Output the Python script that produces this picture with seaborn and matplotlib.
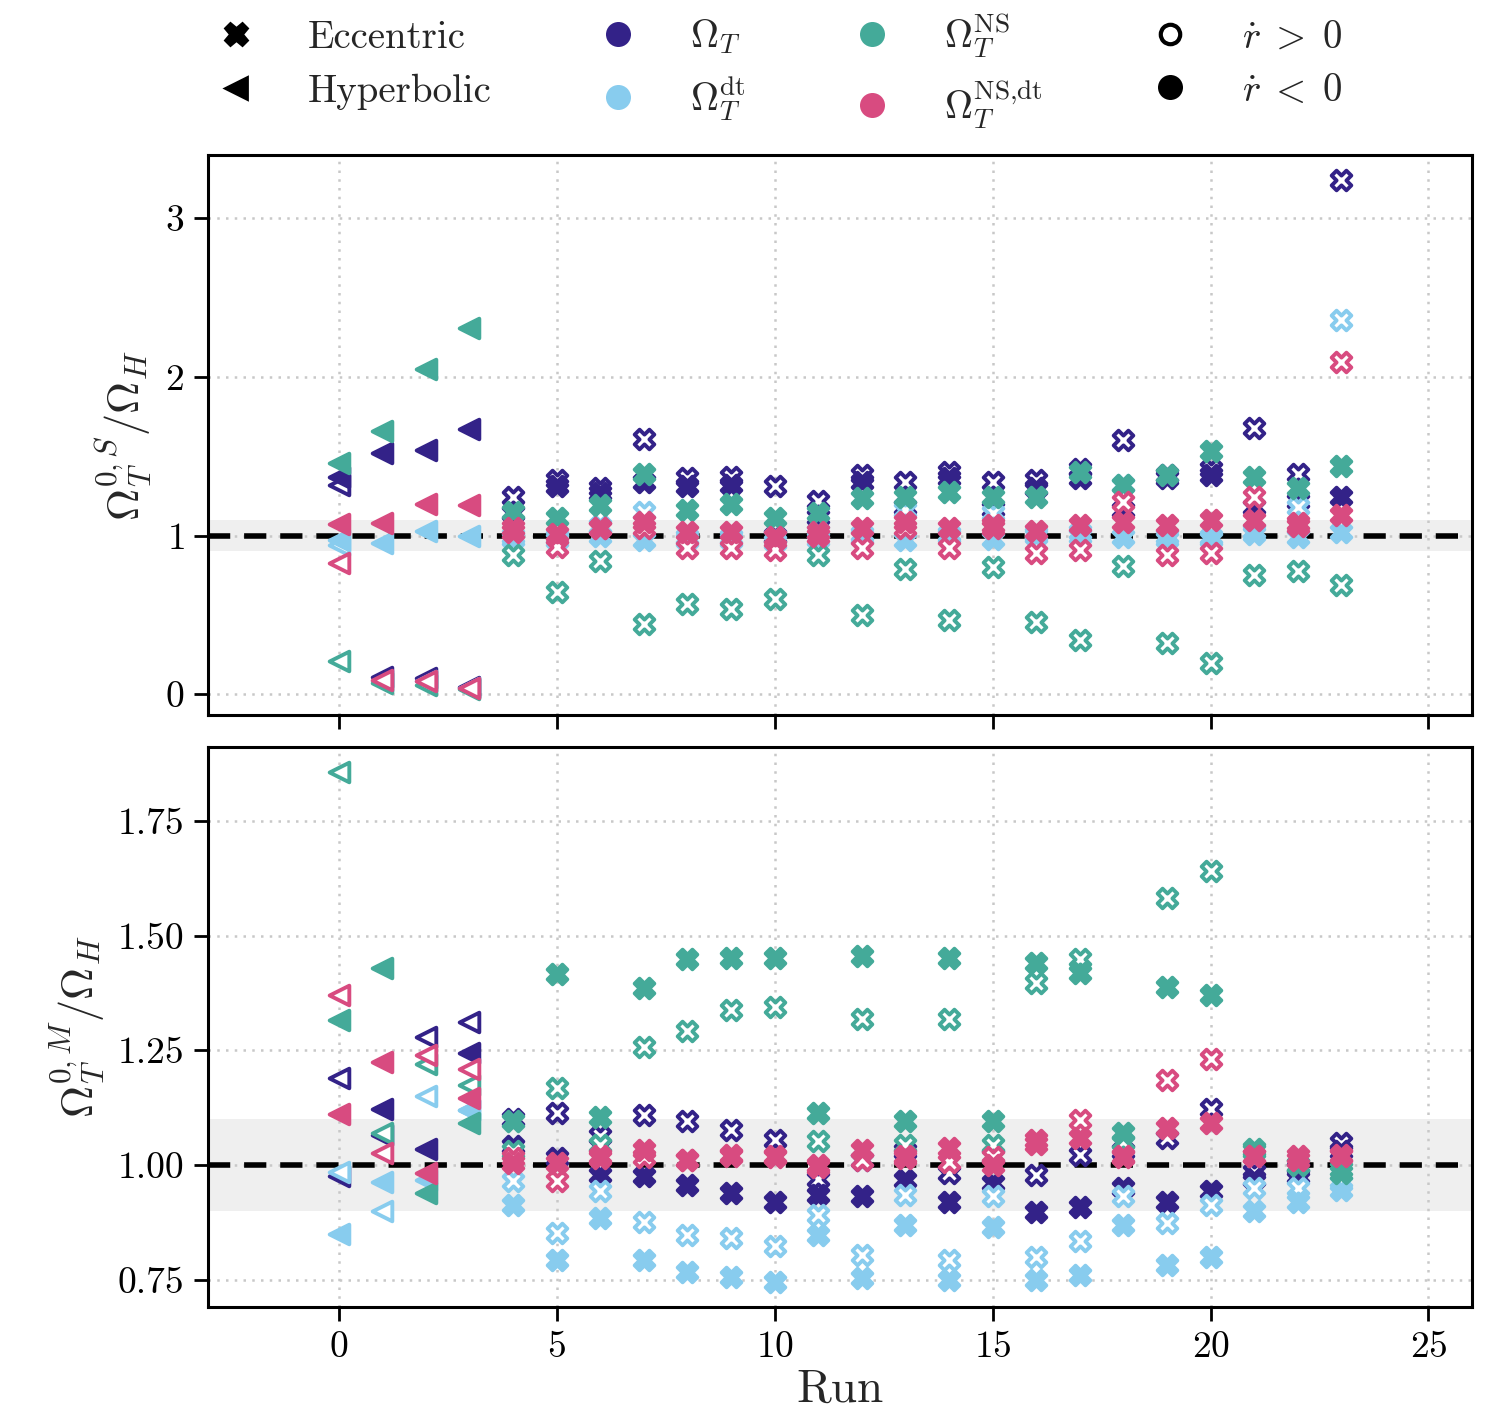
import numpy as np
import pandas as pd
import matplotlib
matplotlib.use("Agg")
import matplotlib.pyplot as plt
from matplotlib.lines import Line2D
import seaborn as sns

sns.set_theme(style="ticks")
plt.rcParams["font.family"] = "serif"
plt.rcParams["font.serif"] = ["cmr10", "DejaVu Serif"]
plt.rcParams["mathtext.fontset"] = "cm"
plt.rcParams["axes.formatter.use_mathtext"] = True

# ---------------- data ----------------
runs = list(range(24))
orbit = ["Hyperbolic"] * 4 + ["Eccentric"] * 20
quantities = ["Omega_T", "Omega_T_dt", "Omega_T_NS", "Omega_T_NS_dt"]
colors = ["#332288", "#88CCEE", "#44AA99", "#D84B80"]

# Top panel (S): rdot<0 (filled) and rdot>0 (open)
S_OmegaT_neg = [1.37, 1.52, 1.54, 1.67, 1.14, 1.31, 1.27, 1.34, 1.31, 1.32, 1.00, 1.12,
                1.34, 1.18, 1.36, 1.17, 1.30, 1.36, 1.16, 1.36, 1.38, 1.18, 1.22, 1.245]
S_OmegaT_pos = [1.32, 0.11, 0.10, 0.045, 1.24, 1.35, 1.30, 1.61, 1.36, 1.37, 1.31, 1.22,
                1.38, 1.34, 1.40, 1.34, 1.35, 1.42, 1.60, 1.38, 1.42, 1.68, 1.39, 3.24]
S_dt_neg = [0.97, 0.95, 1.03, 1.00, 0.98, 0.97, 1.00, 0.97, 0.97, 0.97, 0.96, 0.98,
            0.99, 0.97, 1.00, 0.98, 1.00, 1.00, 0.99, 0.98, 0.99, 1.01, 0.99, 1.02]
S_dt_pos = [0.94, 0.08, 0.08, 0.04, 1.00, 0.99, 1.06, 1.15, 0.99, 0.99, 0.99, 1.02,
            1.01, 1.16, 1.01, 1.14, 1.01, 1.02, 1.32, 1.00, 0.98, 1.03, 1.18, 2.36]
S_NS_neg = [1.46, 1.66, 2.05, 2.31, 1.15, 1.11, 1.19, 1.39, 1.16, 1.20, 1.11, 1.14,
            1.235, 1.24, 1.275, 1.24, 1.24, 1.40, 1.32, 1.38, 1.53, 1.37, 1.30, 1.44]
S_NS_pos = [0.21, 0.07, 0.06, 0.03, 0.88, 0.645, 0.84, 0.44, 0.57, 0.535, 0.60, 0.875,
            0.50, 0.79, 0.466, 0.80, 0.455, 0.34, 0.81, 0.32, 0.195, 0.75, 0.775, 0.69]
S_NSdt_neg = [1.07, 1.08, 1.20, 1.19, 1.02, 1.01, 1.05, 1.085, 1.02, 1.02, 0.99, 1.00,
              1.045, 1.085, 1.045, 1.05, 1.03, 1.065, 1.085, 1.065, 1.095, 1.10, 1.06, 1.13]
S_NSdt_pos = [0.83, 0.09, 0.08, 0.04, 1.05, 0.93, 1.05, 1.05, 0.92, 0.92, 0.91, 1.02,
              0.92, 1.05, 0.92, 1.065, 0.89, 0.91, 1.21, 0.875, 0.89, 1.245, 1.08, 2.095]

# Bottom panel (M)
M_OmegaT_neg = [0.975, 1.122, 1.035, 1.243, 1.04, 1.015, 0.978, 0.975, 0.956, 0.938, 0.92, 0.935,
                0.931, 0.967, 0.92, 0.96, 0.898, 0.909, 0.95, 0.92, 0.942, 0.97, 0.975, 1.03]
M_OmegaT_pos = [1.19, 1.065, 1.278, 1.312, 1.10, 1.113, 1.062, 1.109, 1.095, 1.076, 1.055, 0.97,
                1.01, 1.03, 0.982, 1.02, 0.978, 1.022, 1.03, 1.059, 1.122, 0.985, 0.99, 1.047]
M_dt_neg = [0.85, 0.963, 0.967, 1.119, 0.913, 0.793, 0.884, 0.793, 0.767, 0.756, 0.745, 0.847,
            0.753, 0.869, 0.749, 0.865, 0.749, 0.76, 0.869, 0.782, 0.80, 0.90, 0.92, 0.945]
M_dt_pos = [0.985, 0.90, 1.15, 1.12, 0.964, 0.851, 0.942, 0.876, 0.847, 0.84, 0.822, 0.891,
            0.803, 0.934, 0.793, 0.931, 0.80, 0.833, 0.931, 0.873, 0.913, 0.95, 0.95, 0.96]
M_NS_neg = [1.315, 1.429, 0.939, 1.092, 1.095, 1.415, 1.105, 1.386, 1.448, 1.451, 1.451, 1.113,
            1.455, 1.095, 1.451, 1.095, 1.44, 1.419, 1.069, 1.387, 1.371, 1.035, 1.0, 0.99]
M_NS_pos = [1.857, 1.07, 1.22, 1.173, 1.03, 1.167, 1.044, 1.258, 1.291, 1.338, 1.344, 1.051,
            1.317, 1.044, 1.317, 1.044, 1.397, 1.448, 1.05, 1.582, 1.640, 1.03, 1.0, 0.982]
M_NSdt_neg = [1.11, 1.224, 0.983, 1.146, 1.005, 1.004, 1.02, 1.033, 1.01, 1.02, 1.02, 1.00,
              1.033, 1.02, 1.036, 1.0, 1.045, 1.058, 1.02, 1.08, 1.091, 1.02, 1.01, 1.02]
M_NSdt_pos = [1.37, 1.025, 1.239, 1.208, 1.015, 0.964, 1.015, 1.018, 1.011, 1.022, 1.018, 0.996,
              1.011, 1.015, 1.007, 1.018, 1.055, 1.098, 1.018, 1.184, 1.231, 1.02, 1.02, 1.022]

top_series = {
    ("Omega_T", "neg"): S_OmegaT_neg, ("Omega_T", "pos"): S_OmegaT_pos,
    ("Omega_T_dt", "neg"): S_dt_neg, ("Omega_T_dt", "pos"): S_dt_pos,
    ("Omega_T_NS", "neg"): S_NS_neg, ("Omega_T_NS", "pos"): S_NS_pos,
    ("Omega_T_NS_dt", "neg"): S_NSdt_neg, ("Omega_T_NS_dt", "pos"): S_NSdt_pos,
}
bot_series = {
    ("Omega_T", "neg"): M_OmegaT_neg, ("Omega_T", "pos"): M_OmegaT_pos,
    ("Omega_T_dt", "neg"): M_dt_neg, ("Omega_T_dt", "pos"): M_dt_pos,
    ("Omega_T_NS", "neg"): M_NS_neg, ("Omega_T_NS", "pos"): M_NS_pos,
    ("Omega_T_NS_dt", "neg"): M_NSdt_neg, ("Omega_T_NS_dt", "pos"): M_NSdt_pos,
}

def build(series, panel):
    rows = []
    for (q, sgn), vals in series.items():
        for r, o, v in zip(runs, orbit, vals):
            rows.append(dict(run=r, orbit=o, quantity=q, sign=sgn, value=v, panel=panel))
    return rows

df = pd.DataFrame(build(top_series, "S") + build(bot_series, "M"))

# ---------------- figure ----------------
fig = plt.figure(figsize=(7.48, 7.105), dpi=200)
ax1 = fig.add_axes([0.139, 0.497, 0.845, 0.394])
ax2 = fig.add_axes([0.139, 0.0802, 0.845, 0.3938], sharex=ax1)

markers = {"Eccentric": "X", "Hyperbolic": "<"}
S = 50
LW = 1.4

for ax, panel in [(ax1, "S"), (ax2, "M")]:
    ax.axhspan(0.9, 1.1, color="#efefef", zorder=0, lw=0)
    ax.axhline(1.0, color="black", ls=(0, (4, 2.5)), lw=2.0, zorder=1)
    sub_p = df[df.panel == panel]
    for q, col in zip(quantities, colors):
        for sgn in ["pos", "neg"]:
            for orb in ["Hyperbolic", "Eccentric"]:
                sub = sub_p[(sub_p.quantity == q) & (sub_p.sign == sgn) & (sub_p.orbit == orb)]
                if sgn == "neg":
                    sns.scatterplot(data=sub, x="run", y="value", ax=ax, marker=markers[orb],
                                    color=col, edgecolor=col, linewidth=LW, s=S,
                                    legend=False, zorder=3)
                else:
                    sns.scatterplot(data=sub, x="run", y="value", ax=ax, marker=markers[orb],
                                    color="white", edgecolor=col, linewidth=LW, s=S,
                                    legend=False, zorder=3)
    ax.grid(True, ls=(0, (1, 2.5)), color="#c8c8c8", lw=0.9, zorder=0)
    ax.set_axisbelow(True)
    for sp in ax.spines.values():
        sp.set_linewidth(1.1)
        sp.set_color("black")
    ax.tick_params(labelsize=13.5, width=1.0, length=5, colors="black")

ax1.set_xlim(-3, 26)
ax1.set_ylim(-0.13, 3.40)
ax1.set_yticks([0, 1, 2, 3])
ax1.set_xticks([0, 5, 10, 15, 20, 25])
ax1.tick_params(labelbottom=False)
ax1.set_xlabel("")
ax1.set_ylabel(r"$\Omega_T^{0,S}/\Omega_H$", fontsize=16)

ax2.set_ylim(0.69, 1.91)
ax2.set_yticks([0.75, 1.00, 1.25, 1.50, 1.75])
ax2.set_yticklabels(["0.75", "1.00", "1.25", "1.50", "1.75"])
ax2.set_xticks([0, 5, 10, 15, 20, 25])
ax2.set_xlabel("Run", fontsize=17, labelpad=2)
ax2.set_ylabel(r"$\Omega_T^{0,M}/\Omega_H$", fontsize=16)

# ---------------- legend ----------------
leg_labels = ["Eccentric", "Hyperbolic",
              r"$\Omega_T$", r"$\Omega_T^{\rm dt}$",
              r"$\Omega_T^{\rm NS}$", r"$\Omega_T^{\mathrm{NS{,}dt}}$",
              r"$\dot r\;>\;0$", r"$\dot r\;<\;0$"]
handles = [
    Line2D([], [], ls="", marker="X", color="black", markersize=8),
    Line2D([], [], ls="", marker="<", color="black", markersize=8),
    Line2D([], [], ls="", marker="o", color=colors[0], markersize=8),
    Line2D([], [], ls="", marker="o", color=colors[1], markersize=8),
    Line2D([], [], ls="", marker="o", color=colors[2], markersize=8),
    Line2D([], [], ls="", marker="o", color=colors[3], markersize=8),
    Line2D([], [], ls="", marker="o", markerfacecolor="white", markeredgecolor="black",
           markeredgewidth=1.5, markersize=7),
    Line2D([], [], ls="", marker="o", color="black", markersize=8),
]
fig.legend(handles, leg_labels, ncol=4, loc="upper left", bbox_to_anchor=(0.1343, 1.0035),
           borderaxespad=0.0, frameon=False, fontsize=14, columnspacing=2.75,
           handlelength=1.0, handletextpad=1.35, labelspacing=0.45)

fig.savefig("out.png", dpi=200)
